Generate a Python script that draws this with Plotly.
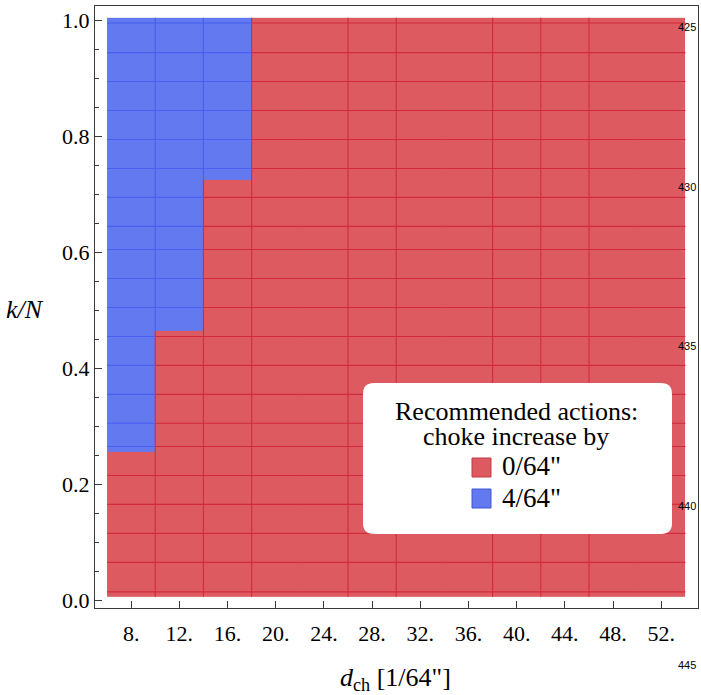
import plotly.graph_objects as go

# ---- data ----
d_ch = [8, 12, 16, 20, 24, 28, 32, 36, 40, 44, 48, 52]          # choke size [1/64"]
# k/N value above which a 4/64" increase is recommended (None -> always 0/64")
blue_from = [0.256, 0.464, 0.726, None, None, None, None, None, None, None, None, None]
kN_extent = [0.005, 1.005]
mesh_x = [10, 14, 18, 26, 30, 38, 42, 46]
mesh_y = [0.996, 0.945, 0.895, 0.845, 0.795, 0.745, 0.695, 0.645, 0.605, 0.555,
          0.505, 0.455, 0.405, 0.355, 0.305, 0.265, 0.215, 0.165, 0.115, 0.065, 0.014]
y_ticks = [0.0, 0.2, 0.4, 0.6, 0.8, 1.0]
legend_title = ["Recommended actions:", "choke increase by"]
legend_labels = ['0/64"', '4/64"']
line_numbers = ["425", "430", "435", "440", "445"]

RED_FILL = "#dc5a60"
BLUE_FILL = "#6279f0"
RED_LINE = "#d22c3a"
BLUE_LINE = "#4a5ef0"
FRAME = "#3a3a3a"
SERIF = "Liberation Serif"

# ---- cell geometry from data ----
x_edges = [d_ch[0] - 2] + [v + 2 for v in d_ch]
y_edges = sorted(set([kN_extent[0], kN_extent[1]] + [t for t in blue_from if t is not None]))
z = []
for r in range(len(y_edges) - 1):
    lo = y_edges[r]
    z.append([1 if (t is not None and lo >= t) else 0 for t in blue_from])

fig = go.Figure()
fig.add_trace(go.Heatmap(
    x=x_edges, y=y_edges, z=z, zmin=0, zmax=1, showscale=False, zsmooth=False,
    colorscale=[[0, RED_FILL], [0.5, RED_FILL], [0.5, BLUE_FILL], [1, BLUE_FILL]],
    hoverinfo="skip"))

# mesh lines, coloured by the cell they lie in
segs = {"b": ([], []), "r": ([], [])}
def is_blue(col, y):
    t = blue_from[col]
    return t is not None and y > t

for y in mesh_y:
    for j in range(len(d_ch)):
        c = "b" if is_blue(j, y) else "r"
        xs, ys = segs[c]
        xs += [x_edges[j], x_edges[j + 1], None]
        ys += [y, y, None]

for xv in mesh_x:
    j = x_edges.index(xv)  # column to the right of the line
    t = blue_from[j] if j < len(blue_from) else None
    if t is None:
        xs, ys = segs["r"]
        xs += [xv, xv, None]; ys += [kN_extent[0], kN_extent[1], None]
    else:
        xs, ys = segs["r"]
        xs += [xv, xv, None]; ys += [kN_extent[0], t, None]
        xs, ys = segs["b"]
        xs += [xv, xv, None]; ys += [t, kN_extent[1], None]

for key, col in (("r", RED_LINE), ("b", BLUE_LINE)):
    xs, ys = segs[key]
    fig.add_trace(go.Scatter(x=xs, y=ys, mode="lines", line=dict(color=col, width=1.1),
                             hoverinfo="skip", showlegend=False))

# ---- layout ----
W, H = 701, 695
L, R, T, B = 95, 3, 6, 87
def px(xp):
    return (xp - L) / (W - L - R)
def py(yp):
    return (H - B - yp) / (H - T - B)

shapes = []
annotations = []

# rounded legend box
x0, x1, y0, y1 = px(363), px(672), py(534), py(383)
rx, ry = 11 / (W - L - R), 11 / (H - T - B)
path = (f"M {x0+rx},{y0} L {x1-rx},{y0} Q {x1},{y0} {x1},{y0+ry} "
        f"L {x1},{y1-ry} Q {x1},{y1} {x1-rx},{y1} L {x0+rx},{y1} "
        f"Q {x0},{y1} {x0},{y1-ry} L {x0},{y0+ry} Q {x0},{y0} {x0+rx},{y0} Z")
shapes.append(dict(type="path", xref="paper", yref="paper", path=path,
                   fillcolor="white", line=dict(width=0), layer="above"))

for i, line in enumerate(legend_title):
    annotations.append(dict(xref="paper", yref="paper", x=px(516), y=py(411 + i * 25),
                            text=line, showarrow=False,
                            xanchor="center", yanchor="middle",
                            font=dict(family=SERIF, size=26, color="black")))
sw_cols = [(RED_FILL, "#c43a46"), (BLUE_FILL, "#3f56d8")]
for i, (lab, (fc, lc)) in enumerate(zip(legend_labels, sw_cols)):
    cy = 467.5 + i * 31
    shapes.append(dict(type="rect", xref="paper", yref="paper",
                       x0=px(472), x1=px(491), y0=py(cy + 9.5), y1=py(cy - 9.5),
                       fillcolor=fc, line=dict(color=lc, width=1), layer="above"))
    annotations.append(dict(xref="paper", yref="paper", x=px(500), y=py(cy - 1),
                            text=lab, showarrow=False, xanchor="left", yanchor="middle",
                            font=dict(family=SERIF, size=27, color="black")))

# axis titles
annotations.append(dict(xref="paper", yref="paper", x=px(25), y=py(309),
                        text="<i>k/N</i>", showarrow=False, xanchor="center", yanchor="middle",
                        font=dict(family=SERIF, size=26, color="black")))
annotations.append(dict(xref="paper", yref="paper", x=px(395), y=py(679),
                        text="<i>d</i><sub>ch</sub> [1/64\"]", showarrow=False,
                        xanchor="center", yanchor="middle",
                        font=dict(family=SERIF, size=26, color="black")))

# page line numbers
for i, n in enumerate(line_numbers):
    annotations.append(dict(xref="paper", yref="paper", x=px(698), y=py(27 + i * 159.5),
                            text=n, showarrow=False, xanchor="right", yanchor="middle",
                            font=dict(family="Liberation Sans", size=11, color="black")))

fig.update_layout(
    width=W, height=H, margin=dict(l=L, r=R, t=T, b=B, autoexpand=False),
    paper_bgcolor="white", plot_bgcolor="white", showlegend=False,
    shapes=shapes, annotations=annotations,
    xaxis=dict(range=[5.0, 55.05], showgrid=False, zeroline=False,
               showline=True, mirror=True, linecolor=FRAME, linewidth=1.3,
               ticks="inside", ticklen=7, tickcolor=FRAME, tickwidth=1,
               tickvals=d_ch, ticktext=[f"{v}." for v in d_ch], ticklabelstandoff=5,
               tickfont=dict(family=SERIF, size=22, color="black")),
    yaxis=dict(range=[-0.0138, 1.0254], showgrid=False, zeroline=False,
               showline=True, mirror=True, linecolor=FRAME, linewidth=1.3,
               ticks="inside", ticklen=7, tickcolor=FRAME, tickwidth=1,
               tickvals=y_ticks, ticktext=[f"{v:.1f}" for v in y_ticks],
               tickfont=dict(family=SERIF, size=22, color="black"),
               minor=dict(ticks="inside", ticklen=4, tickcolor=FRAME, dtick=0.05, tick0=0,
                          showgrid=False)),
)

fig.write_html("out.html", config={"displayModeBar": False},
               post_script="document.body.style.margin='0';")
